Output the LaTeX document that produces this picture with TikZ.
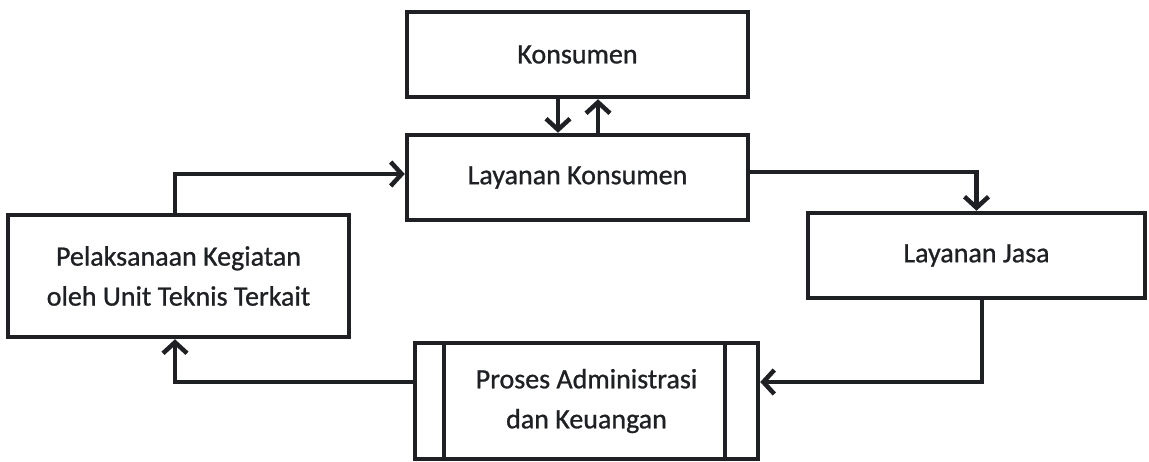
\documentclass[tikz,border=0pt]{standalone}
\usepackage{fontspec}
\setmainfont{Carlito}
\newfontfamily\heavyfont{Carlito}[FakeBold=0.9]
\usetikzlibrary{arrows.meta}
\definecolor{ink}{HTML}{1E2024}
\begin{document}
\begin{tikzpicture}[x=1pt,y=-1pt,
  box/.style={draw=ink, line width=4.5pt, inner sep=0pt, align=center,
    text=ink, font=\heavyfont\fontsize{28}{40}\selectfont},
  arr/.style={draw=ink, line width=4.5pt, -{Straight Barb[length=11pt,width=24pt]}}]
\useasboundingbox (0,0) rectangle (1149,462);
\node[box, minimum width=341pt, minimum height=85pt] (kons) at (577.5,54.5) {Konsumen};
\node[box, minimum width=341pt, minimum height=85pt] (lk) at (577.5,177.5) {Layanan Konsumen};
\node[box, minimum width=341pt, minimum height=122pt] (pel) at (178.5,276) {Pelaksanaan Kegiatan\\oleh Unit Teknis Terkait};
\node[box, minimum width=337pt, minimum height=85pt] (lj) at (976.5,255.5) {Layanan Jasa};
\node[box, minimum width=343pt, minimum height=116pt] (pro) at (586.5,401) {Proses Administrasi\\dan Keuangan};
\draw[ink, line width=4.5pt] ([xshift=-142.5pt]pro.north) -- ([xshift=-142.5pt]pro.south)
  ([xshift=138.5pt]pro.north) -- ([xshift=138.5pt]pro.south);
\draw[arr] ([xshift=-19.5pt]kons.south) -- ([xshift=-19.5pt]lk.north);
\draw[arr] ([xshift=20.5pt]lk.north) -- ([xshift=20.5pt]kons.south);
\draw[arr] ([xshift=-3.5pt]pel.north) |- ([yshift=3.5pt]lk.west);
\draw[arr] ([yshift=5.5pt]lk.east) -| (lj.north);
\draw[arr] ([xshift=5.5pt]lj.south) |- ([yshift=19pt]pro.east);
\draw[arr] ([yshift=19pt]pro.west) -| ([xshift=-3.5pt]pel.south);
\end{tikzpicture}
\end{document}
